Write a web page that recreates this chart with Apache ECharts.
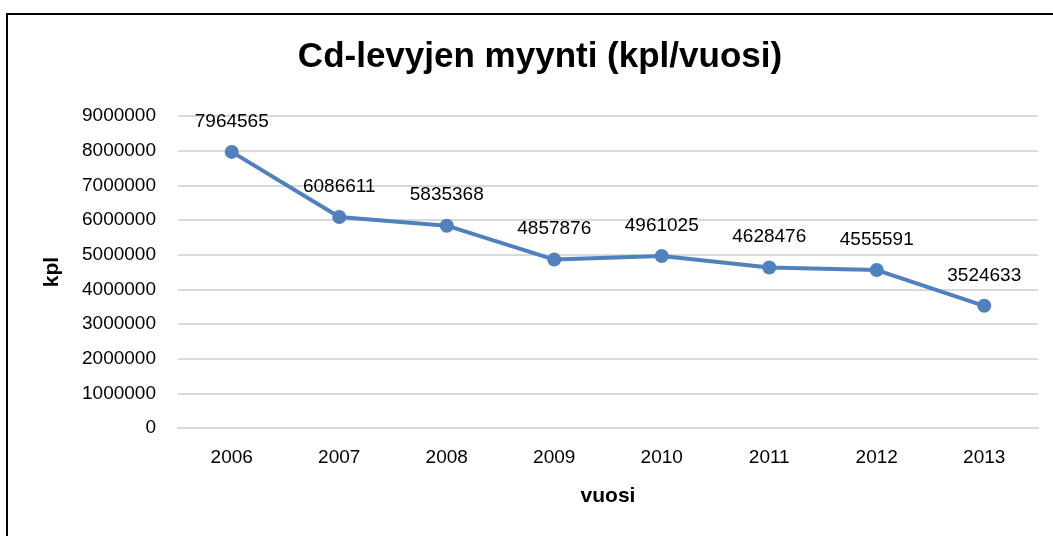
<!DOCTYPE html>
<html>
<head>
<meta charset="utf-8">
<script src="https://cdn.jsdelivr.net/npm/echarts@6/dist/echarts.min.js"></script>
<style>
html, body { margin: 0; padding: 0; background: #fff; }
#frame { position: absolute; left: 6px; top: 13px; width: 1100px; height: 600px;
  border-left: 2px solid #000; border-top: 2px solid #000; }
#chart { position: absolute; left: 0; top: 0; width: 1053px; height: 536px; }
</style>
</head>
<body>
<div id="frame"></div>
<div id="chart"></div>
<script>
// cd sales per year
var years = ['2006', '2007', '2008', '2009', '2010', '2011', '2012', '2013'];
var sales = [7964565, 6086611, 5835368, 4857876, 4961025, 4628476, 4555591, 3524633];
var yMax = 9000000;
var yStep = 1000000;

var font = 'Liberation Sans, Arial, sans-serif';

var chart = echarts.init(document.getElementById('chart'));

var opt = {
    textStyle: { fontFamily: font },
    title: {
        text: 'Cd-levyjen myynti (kpl/vuosi)',
        left: 535,
        top: 35,
        textAlign: 'center',
        textStyle: { fontFamily: font, fontSize: 35, fontWeight: 'bold', color: '#000' }
    },
    grid: {
        left: 178,
        right: 15,
        top: 116,
        bottom: 108
    },
    xAxis: {
        type: 'category',
        data: years,
        name: 'vuosi',
        nameLocation: 'middle',
        nameGap: 58,
        nameTextStyle: { fontFamily: font, fontSize: 21, fontWeight: 'bold', color: '#000' },
        axisLine: { lineStyle: { color: '#d9d9d9', width: 2 } },
        axisTick: { show: false },
        axisLabel: { fontFamily: font, fontSize: 19, color: '#000', margin: 20 }
    },
    yAxis: {
        type: 'value',
        min: 0,
        max: yMax,
        interval: yStep,
        name: 'kpl',
        nameLocation: 'middle',
        nameGap: 115,
        nameTextStyle: { fontFamily: font, fontSize: 21, fontWeight: 'bold', color: '#000' },
        axisLine: { show: false },
        axisTick: { show: false },
        axisLabel: {
            fontFamily: font,
            fontSize: 19,
            color: '#000',
            margin: 22,
            formatter: function (v) { return String(v); }
        },
        splitLine: { lineStyle: { color: '#d9d9d9', width: 2 } }
    },
    series: [
        {
            type: 'line',
            data: sales,
            symbol: 'circle',
            symbolSize: 14,
            lineStyle: { color: '#4f81bd', width: 4 },
            itemStyle: { color: '#4f81bd' },
            label: {
                show: true,
                position: 'top',
                distance: 14,
                fontFamily: font,
                fontSize: 19,
                color: '#000'
            }
        }
    ]
};

chart.setOption(opt);

window.addEventListener('resize', function () {
    chart.resize();
});
</script>
</body>
</html>
